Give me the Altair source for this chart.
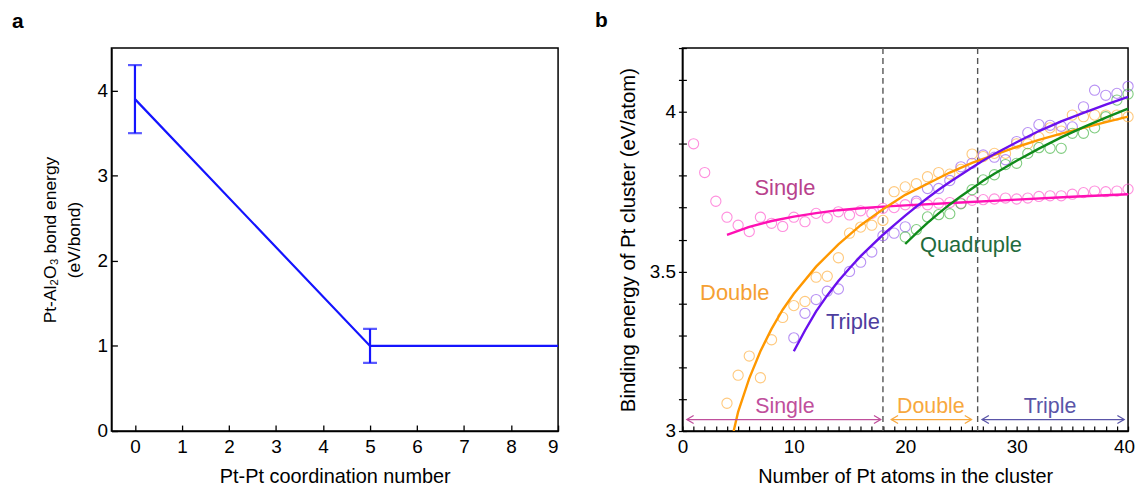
import altair as alt
import pandas as pd

FONT = "Liberation Sans"

# ---------------- Panel a data ----------------
coord = [0, 5, 9]
bond_energy = [3.9, 1.0, 1.0]
err_coord = [0, 5]
err_low = [3.5, 0.8]
err_high = [4.3, 1.2]
a_xticks = [0, 1, 2, 3, 4, 5, 6, 7, 8, 9]
a_yticks = [0, 1, 2, 3, 4]

# ---------------- Panel b data ----------------
n_single = list(range(1, 41))
e_single = [3.90, 3.81, 3.72, 3.67, 3.645, 3.625, 3.67, 3.651, 3.641, 3.67,
            3.656, 3.682, 3.668, 3.687, 3.677, 3.69, 3.682, 3.698, 3.70, 3.709,
            3.714, 3.709, 3.714, 3.716, 3.714, 3.723, 3.725, 3.727, 3.73, 3.727,
            3.73, 3.735, 3.737, 3.737, 3.742, 3.747, 3.752, 3.75, 3.752, 3.758]
n_double = list(range(4, 41))
e_double = [3.087, 3.175, 3.235, 3.167, 3.286, 3.356, 3.393, 3.406, 3.482, 3.485,
            3.543, 3.620, 3.639, 3.645, 3.66, 3.75, 3.765, 3.775, 3.797, 3.81,
            3.805, 3.82, 3.868, 3.86, 3.87, 3.87, 3.90, 3.90, 3.92, 3.95,
            3.94, 3.99, 3.985, 3.99, 3.99, 3.99, 3.985]
n_triple = list(range(10, 41))
e_triple = [3.292, 3.369, 3.412, 3.438, 3.445, 3.50, 3.529, 3.561, 3.612, 3.62,
            3.64, 3.72, 3.76, 3.76, 3.785, 3.828, 3.839, 3.865, 3.858, 3.85,
            3.907, 3.935, 3.96, 3.958, 3.955, 3.953, 4.016, 4.068, 4.052, 4.058, 4.08]
n_quad = list(range(20, 41))
e_quad = [3.608, 3.631, 3.671, 3.678, 3.681, 3.712, 3.756, 3.787, 3.803, 3.835,
          3.839, 3.87, 3.888, 3.886, 3.886, 3.933, 3.933, 3.95, 3.985, 4.037, 4.056]

fit_single_n = [4, 6, 8, 10, 12, 14, 16, 18, 20, 25, 30, 35, 40]
fit_single_e = [3.615, 3.64, 3.658, 3.672, 3.683, 3.692, 3.698, 3.703, 3.707, 3.716, 3.725, 3.734, 3.742]
fit_double_n = [4.6, 5, 6, 7, 8, 9, 10, 12, 14, 16, 18, 20, 22, 24, 26, 28, 30, 32, 34, 36, 38, 40]
fit_double_e = [3.0, 3.06, 3.165, 3.25, 3.32, 3.38, 3.43, 3.515, 3.585, 3.645, 3.695, 3.74,
                3.775, 3.81, 3.84, 3.865, 3.89, 3.912, 3.932, 3.95, 3.968, 3.985]
fit_triple_n = [10, 11, 12, 13, 14, 15, 16, 17, 18, 19, 20, 21, 22, 23, 24, 25, 26, 27, 28,
                30, 32, 34, 36, 38, 40]
fit_triple_e = [3.25, 3.315, 3.375, 3.425, 3.47, 3.51, 3.548, 3.582, 3.615, 3.645, 3.675,
                3.703, 3.73, 3.756, 3.78, 3.803, 3.826, 3.848, 3.868, 3.905, 3.94, 3.97,
                3.997, 4.023, 4.047]
fit_quad_n = [20, 21, 22, 23, 24, 25, 26, 27, 28, 30, 32, 34, 36, 38, 40]
fit_quad_e = [3.586, 3.62, 3.652, 3.682, 3.71, 3.736, 3.76, 3.784, 3.806, 3.847, 3.885,
              3.92, 3.952, 3.982, 4.01]

point_colors = ["#ff5fd0", "#ffb347", "#9a62f0", "#4cb84c"]
line_colors = ["#ff10b4", "#ff9800", "#6a10ee", "#0f8a1a"]
label_colors = ["#b8428c", "#f5a033", "#4d3d9e", "#1f6b3d"]

label_text = ["Single", "Double", "Triple", "Quadruple"]
label_n = [9.2, 4.7, 15.3, 25.9]
label_e = [3.76, 3.431, 3.342, 3.584]

divider_n = [18, 26.5]

range_text = ["Single", "Double", "Triple"]
range_start = [0.4, 18.75, 26.9]
range_end = [17.8, 25.95, 39.65]
range_mid = [9.2, 22.3, 33.0]
range_colors = ["#c04f9c", "#f7a83e", "#5a55a8"]
arrow_e = 3.036
range_label_e = 3.074

b_xticks = list(range(0, 41))
b_yticks = [3.0, 3.1, 3.2, 3.3, 3.4, 3.5, 3.6, 3.7, 3.8, 3.9, 4.0, 4.1, 4.2]

# ---------------- build tables ----------------
pts = pd.concat([
    pd.DataFrame({"n": n_single, "E": e_single, "c": point_colors[0]}),
    pd.DataFrame({"n": n_double, "E": e_double, "c": point_colors[1]}),
    pd.DataFrame({"n": n_triple, "E": e_triple, "c": point_colors[2]}),
    pd.DataFrame({"n": n_quad, "E": e_quad, "c": point_colors[3]}),
], ignore_index=True)

fits = pd.concat([
    pd.DataFrame({"n": fit_single_n, "E": fit_single_e, "s": "Single", "c": line_colors[0]}),
    pd.DataFrame({"n": fit_double_n, "E": fit_double_e, "s": "Double", "c": line_colors[1]}),
    pd.DataFrame({"n": fit_triple_n, "E": fit_triple_e, "s": "Triple", "c": line_colors[2]}),
    pd.DataFrame({"n": fit_quad_n, "E": fit_quad_e, "s": "Quadruple", "c": line_colors[3]}),
], ignore_index=True)

labels = pd.DataFrame({"n": label_n, "E": label_e, "t": label_text, "c": label_colors})
dividers = pd.DataFrame({"n": divider_n})
ranges = pd.DataFrame({"n": range_start, "n2": range_end, "E": [arrow_e] * 3, "c": range_colors})
range_labels = pd.DataFrame({"n": range_mid, "E": [range_label_e] * 3, "t": range_text, "c": range_colors})
left_head = "M1.7,-1L0,0L1.7,1"
right_head = "M-1.7,-1L0,0L-1.7,1"
heads = pd.DataFrame({
    "n": range_start + range_end,
    "E": [arrow_e] * 6,
    "shp": [left_head] * 3 + [right_head] * 3,
    "c": range_colors + range_colors,
})

line_a = pd.DataFrame({"coord": coord, "energy": bond_energy})
err_a = pd.DataFrame({"coord": err_coord, "lo": err_low, "hi": err_high})
caps_a = pd.DataFrame({"coord": err_coord * 2, "energy": err_low + err_high})

# ---------------- panel a ----------------
H = 385
A_W = 449
B_W = 448

a_xaxis = alt.Axis(values=a_xticks, title="Pt-Pt coordination number", grid=True,
                   gridDash=[6, H - 6], gridDashOffset=6, gridColor="black", gridWidth=1.3,
                   gridOpacity=1, ticks=False, labelPadding=7, titlePadding=10,
                   titleFontSize=20)
a_yaxis = alt.Axis(values=a_yticks, title=["Pt-Al\u2082O\u2083 bond energy", "(eV/bond)"],
                   grid=True, gridDash=[6, 2000], gridColor="black", gridWidth=1.3,
                   gridOpacity=1, ticks=False, labelPadding=4, titlePadding=14,
                   titleFontSize=17.5, titleLineHeight=24)
ax = alt.X("coord:Q", scale=alt.Scale(domain=[-0.5, 9], nice=False), axis=a_xaxis)
ay_scale = alt.Scale(domain=[0, 4.5], nice=False)

a_line = alt.Chart(line_a).mark_line(color="#1414ff", strokeWidth=2.2, clip=True).encode(
    x=ax, y=alt.Y("energy:Q", scale=ay_scale, axis=a_yaxis))
a_err = alt.Chart(err_a).mark_rule(color="#1414ff", strokeWidth=2.2).encode(
    x=ax, y=alt.Y("lo:Q", scale=ay_scale, axis=a_yaxis), y2="hi:Q")
a_caps = alt.Chart(caps_a).mark_tick(color="#1414ff", orient="horizontal", size=14,
                                     thickness=2.2).encode(
    x=ax, y=alt.Y("energy:Q", scale=ay_scale, axis=a_yaxis))

panel_a = alt.layer(a_line, a_err, a_caps).properties(
    width=A_W, height=H,
    title=alt.TitleParams("a", anchor="start", frame="group", dx=-100, fontSize=21,
                          fontWeight="bold", font=FONT, offset=16, color="black"))

# ---------------- panel b ----------------
b_xaxis = alt.Axis(values=b_xticks, title="Number of Pt atoms in the cluster", grid=True,
                   gridDash=[5, H - 5], gridDashOffset=5, gridColor="black", gridWidth=1.2,
                   gridOpacity=1, ticks=False, labelPadding=7, titlePadding=10,
                   titleFontSize=20,
                   labelExpr="datum.value % 10 == 0 ? datum.label : ''", labelFlush=False,
                   labelOffset={"condition": {"test": "datum.value == 40", "value": -4},
                                "value": 0})
b_yaxis = alt.Axis(values=b_yticks, title="Binding energy of Pt cluster (eV/atom)", grid=True,
                   gridDash=[4, 2000], gridColor="black", gridWidth=1.2, gridOpacity=1,
                   ticks=True, tickSize=4, tickColor="black", tickWidth=1.2,
                   labelPadding=3, titlePadding=11, titleFontSize=20.5,
                   labelExpr="abs(datum.value-3)<0.001 ? '3' : abs(datum.value-3.5)<0.001 ? '3.5' : abs(datum.value-4)<0.001 ? '4' : ''")
bx_scale = alt.Scale(domain=[0, 40], nice=False)
by_scale = alt.Scale(domain=[3, 4.2], nice=False, zero=False)
bx = alt.X("n:Q", scale=bx_scale, axis=b_xaxis)
by = alt.Y("E:Q", scale=by_scale, axis=b_yaxis)

b_div = alt.Chart(dividers).mark_rule(color="#555555", strokeDash=[6, 4], strokeWidth=1.4).encode(x=bx)
b_pts = alt.Chart(pts).mark_point(filled=False, size=105, strokeWidth=1.1).encode(
    x=bx, y=by, color=alt.Color("c:N", scale=None))
b_fit = alt.Chart(fits).mark_line(strokeWidth=2.4, clip=True).encode(
    x=bx, y=by, color=alt.Color("c:N", scale=None), detail="s:N")
b_lab = alt.Chart(labels).mark_text(fontSize=22, font=FONT).encode(
    x=bx, y=by, text="t:N", color=alt.Color("c:N", scale=None))
b_rng = alt.Chart(ranges).mark_rule(strokeWidth=1.3).encode(
    x=bx, x2="n2:Q", y=by, color=alt.Color("c:N", scale=None))
b_heads = alt.Chart(heads).mark_point(filled=False, size=64, strokeWidth=1.3, opacity=1).encode(
    x=bx, y=by, shape=alt.Shape("shp:N", scale=None), color=alt.Color("c:N", scale=None))
b_rlab = alt.Chart(range_labels).mark_text(fontSize=21.5, font=FONT).encode(
    x=bx, y=by, text="t:N", color=alt.Color("c:N", scale=None))

panel_b = alt.layer(b_div, b_pts, b_fit, b_lab, b_rng, b_heads, b_rlab).properties(
    width=B_W, height=H,
    title=alt.TitleParams("b", anchor="start", frame="group", dx=-88, fontSize=21,
                          fontWeight="bold", font=FONT, offset=16, color="black"))

chart = alt.hconcat(panel_a, panel_b, spacing=125, bounds="flush").properties(
    padding={"left": 3, "top": 0, "right": 0, "bottom": 0}
).configure_view(
    stroke="black", strokeWidth=1.5
).configure_axis(
    labelFont=FONT, titleFont=FONT, labelFontSize=19,
    titleFontWeight="normal", labelColor="black", titleColor="black",
    domainColor="black", domainWidth=1.5
)

chart.save("out.html", embed_options={"renderer": "svg", "actions": False})
